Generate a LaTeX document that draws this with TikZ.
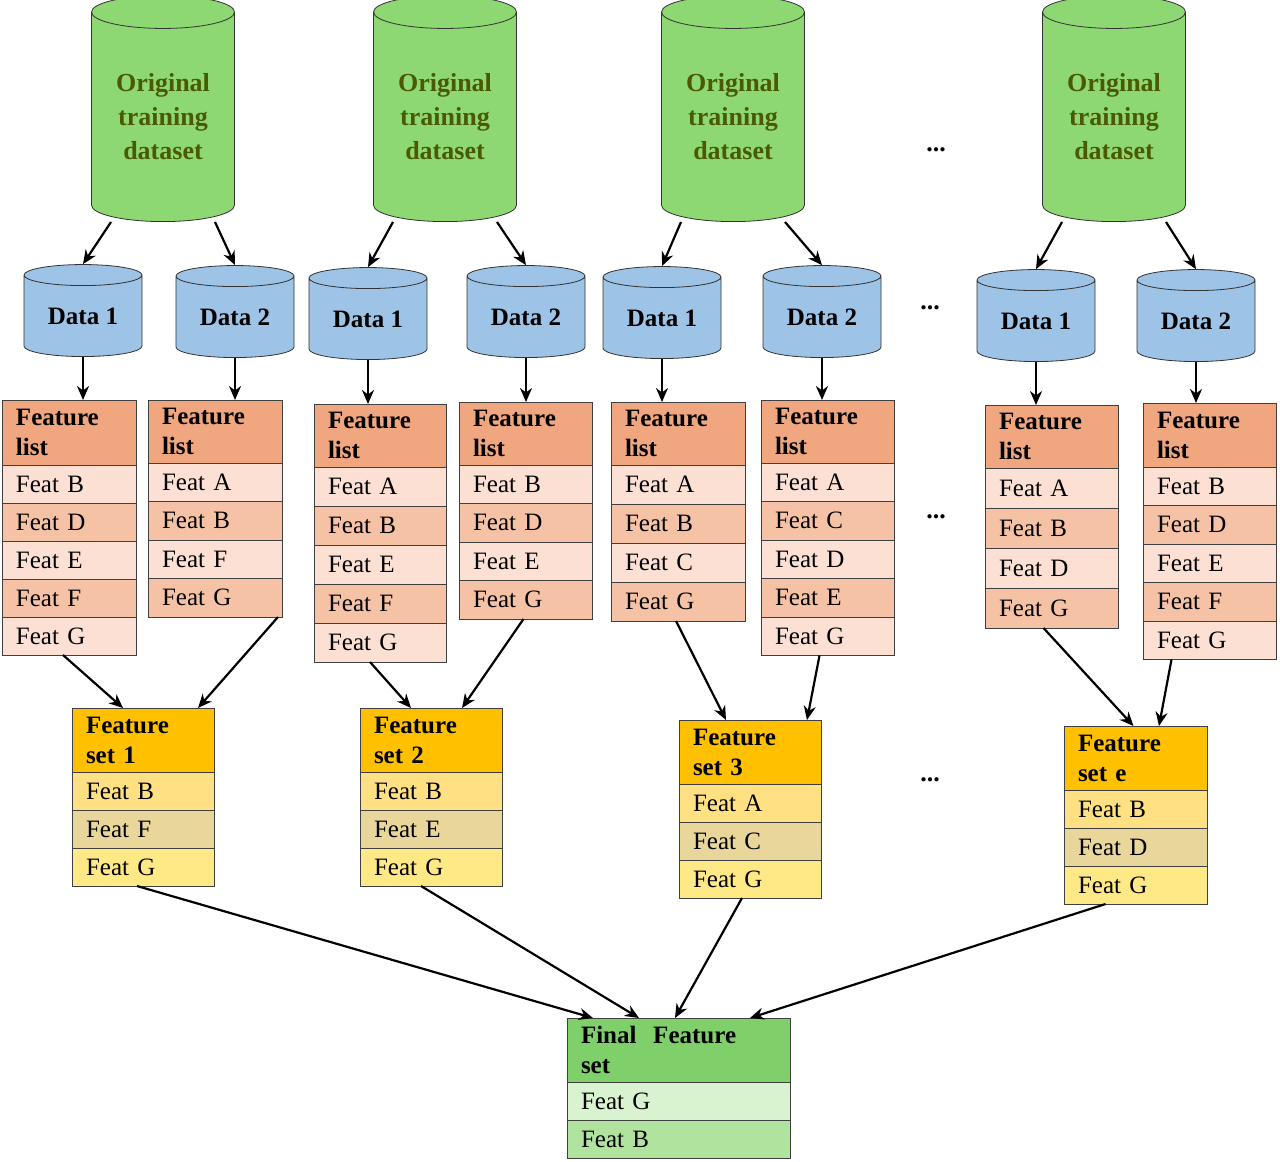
\documentclass[tikz,border=0pt]{standalone}
\usepackage{fontspec}
\setmainfont{Liberation Serif}
\usetikzlibrary{shapes.geometric,arrows.meta}
\definecolor{cgreen}{HTML}{8ED873}
\definecolor{ctxt}{HTML}{4A5A00}
\definecolor{cblue}{HTML}{9DC3E6}
\definecolor{fhead}{HTML}{F0A77F}
\definecolor{frowa}{HTML}{FBE0D3}
\definecolor{frowb}{HTML}{F6C2A6}
\definecolor{shead}{HTML}{FFC000}
\definecolor{srowa}{HTML}{FFE083}
\definecolor{srowb}{HTML}{E8D69B}
\definecolor{srowc}{HTML}{FFE986}
\definecolor{ghead}{HTML}{7FD06A}
\definecolor{growa}{HTML}{D9F2D0}
\definecolor{growb}{HTML}{B0E39E}
\tikzset{
 bigcyl/.style={cylinder, shape border rotate=90, aspect=0.35, draw=black!80, fill=cgreen, minimum width=71.5pt, minimum height=113pt, font=\bfseries\fontsize{13}{17}\selectfont, text=ctxt, align=center, inner sep=0pt},
 smallcyl/.style={cylinder, shape border rotate=90, aspect=0.3, draw=black!80, fill=cblue, minimum width=59pt, minimum height=46pt, font=\bfseries\fontsize{12.5}{15}\selectfont, inner sep=0pt},
 cell/.style={draw=black!75, anchor=north west, inner sep=0pt, outer sep=0pt},
 arr/.style={-{Stealth[length=7pt,width=6pt]}, line width=1.1pt},
 dots/.style={font=\bfseries\fontsize{13}{13}\selectfont}
}
% \tbl{x1}{x2}{ytop}{headh}{rowh}{headcol}{header}{list of item/color}; name T<x1>
\newcommand{\tbl}[8]{%
 \pgfmathsetlengthmacro\tbW{(#2-#1)*0.5pt}%
 \pgfmathsetlengthmacro\tbTW{(#2-#1)*0.5pt-14pt}%
 \pgfmathsetlengthmacro\tbHH{#4*0.5pt}%
 \pgfmathsetlengthmacro\tbRH{#5*0.5pt}%
 \node[cell, fill=#6, minimum width=\tbW, minimum height=\tbHH, text width=\tbTW, align=left, font=\bfseries\fontsize{12.5}{15}\selectfont, inner xsep=7pt] (T#1h) at (#1,#3) {#7};
 \foreach \itm/\clr [count=\idx] in {#8} {
  \node[cell, fill=\clr, minimum width=\tbW, minimum height=\tbRH, text width=\tbTW, align=left, font=\fontsize{12.5}{15}\selectfont, inner xsep=7pt] (T#1r\idx) at (#1,#3+#4+#5*\idx-#5) {\itm};
 }
}
\begin{document}
\begin{tikzpicture}[x=0.5pt,y=-0.5pt]
\useasboundingbox (0,0) rectangle (1280,1162);
\node[bigcyl] (o1) at (163,117) {Original\\training\\dataset};
\node[bigcyl] (o2) at (445,117) {Original\\training\\dataset};
\node[bigcyl] (o3) at (733,117) {Original\\training\\dataset};
\node[bigcyl] (o4) at (1114,117) {Original\\training\\dataset};
\node[dots] (d1) at (936,150) {...};
\node[smallcyl] (a1) at (83,316) {Data 1};
\node[smallcyl] (b1) at (235,317) {Data 2};
\node[smallcyl] (a2) at (368,319) {Data 1};
\node[smallcyl] (b2) at (526,317) {Data 2};
\node[smallcyl] (a3) at (662,318) {Data 1};
\node[smallcyl] (b3) at (822,317) {Data 2};
\node[smallcyl] (a4) at (1036,321) {Data 1};
\node[smallcyl] (b4) at (1196,321) {Data 2};
\node[dots] (d2) at (930,308) {...};
\foreach \o/\a/\b in {o1/a1/b1,o2/a2/b2,o3/a3/b3,o4/a4/b4}{
 \draw[arr] ([xshift=-26pt]\o.bottom) -- (\a.top);
 \draw[arr] ([xshift=26pt]\o.bottom) -- (\b.top);
}
\tbl{2}{136}{400}{65}{38}{fhead}{Feature\\list}{Feat B/frowa,Feat D/frowb,Feat E/frowa,Feat F/frowb,Feat G/frowa}
\tbl{148}{282}{400}{63}{38.5}{fhead}{Feature\\list}{Feat A/frowa,Feat B/frowb,Feat F/frowa,Feat G/frowb}
\tbl{314}{446}{404}{63}{39}{fhead}{Feature\\list}{Feat A/frowa,Feat B/frowb,Feat E/frowa,Feat F/frowb,Feat G/frowa}
\tbl{459}{592}{402}{63}{38.5}{fhead}{Feature\\list}{Feat B/frowa,Feat D/frowb,Feat E/frowa,Feat G/frowb}
\tbl{611}{745}{402}{63}{39}{fhead}{Feature\\list}{Feat A/frowa,Feat B/frowb,Feat C/frowa,Feat G/frowb}
\tbl{761}{894}{400}{63}{38.5}{fhead}{Feature\\list}{Feat A/frowa,Feat C/frowb,Feat D/frowa,Feat E/frowb,Feat G/frowa}
\tbl{985}{1118}{405}{63}{40}{fhead}{Feature\\list}{Feat A/frowa,Feat B/frowb,Feat D/frowa,Feat G/frowb}
\tbl{1143}{1276}{403}{64}{38.5}{fhead}{Feature\\list}{Feat B/frowa,Feat D/frowb,Feat E/frowa,Feat F/frowb,Feat G/frowa}
\node[dots] (d3) at (936,517) {...};
\foreach \a/\t in {a1/2,b1/148,a2/314,b2/459,a3/611,b3/761,a4/985,b4/1143}{
 \draw[arr] (\a.bottom) -- (\a.bottom |- T\t h.north);
}
\tbl{72}{214}{708}{64}{38}{shead}{Feature\\set 1}{Feat B/srowa,Feat F/srowb,Feat G/srowc}
\tbl{360}{502}{708}{64}{38}{shead}{Feature\\set 2}{Feat B/srowa,Feat E/srowb,Feat G/srowc}
\tbl{679}{821}{720}{64}{38}{shead}{Feature\\set 3}{Feat A/srowa,Feat C/srowb,Feat G/srowc}
\tbl{1064}{1207}{726}{64}{38}{shead}{Feature\\set e}{Feat B/srowa,Feat D/srowb,Feat G/srowc}
\node[dots] (d4) at (930,780) {...};
\draw[arr] ([xshift=-3pt]T2r5.south) -- ([xshift=-10pt]T72h.north);
\draw[arr] ([xshift=-2pt]T148r4.south east) -- ([xshift=-8pt]T72h.north east);
\draw[arr] ([xshift=-5pt]T314r5.south) -- ([xshift=-10pt]T360h.north);
\draw[arr] ([xshift=-1pt]T459r4.south) -- ([xshift=-20pt]T360h.north east);
\draw[arr] ([xshift=-1pt]T611r4.south) -- ([xshift=-12pt]T679h.north);
\draw[arr] ([xshift=-4pt]T761r5.south) -- ([xshift=-7pt]T679h.north east);
\draw[arr] ([xshift=-4pt]T985r4.south) -- ([xshift=-1pt]T1064h.north);
\draw[arr] ([xshift=-19pt]T1143r5.south) -- ([xshift=-24pt]T1064h.north east);
\tbl{567}{790}{1018}{64}{38}{ghead}{Final\ \ Feature\\set}{Feat G/growa,Feat B/growb}
\draw[arr] ([xshift=-3pt]T72r3.south) -- ([xshift=13pt]T567h.north west);
\draw[arr] ([xshift=-5pt]T360r3.south) -- ([xshift=36pt]T567h.north west);
\draw[arr] ([xshift=-4pt]T679r3.south) -- ([xshift=54pt]T567h.north west);
\draw[arr] ([xshift=-15pt]T1064r3.south) -- ([xshift=-20pt]T567h.north east);
\end{tikzpicture}
\end{document}
